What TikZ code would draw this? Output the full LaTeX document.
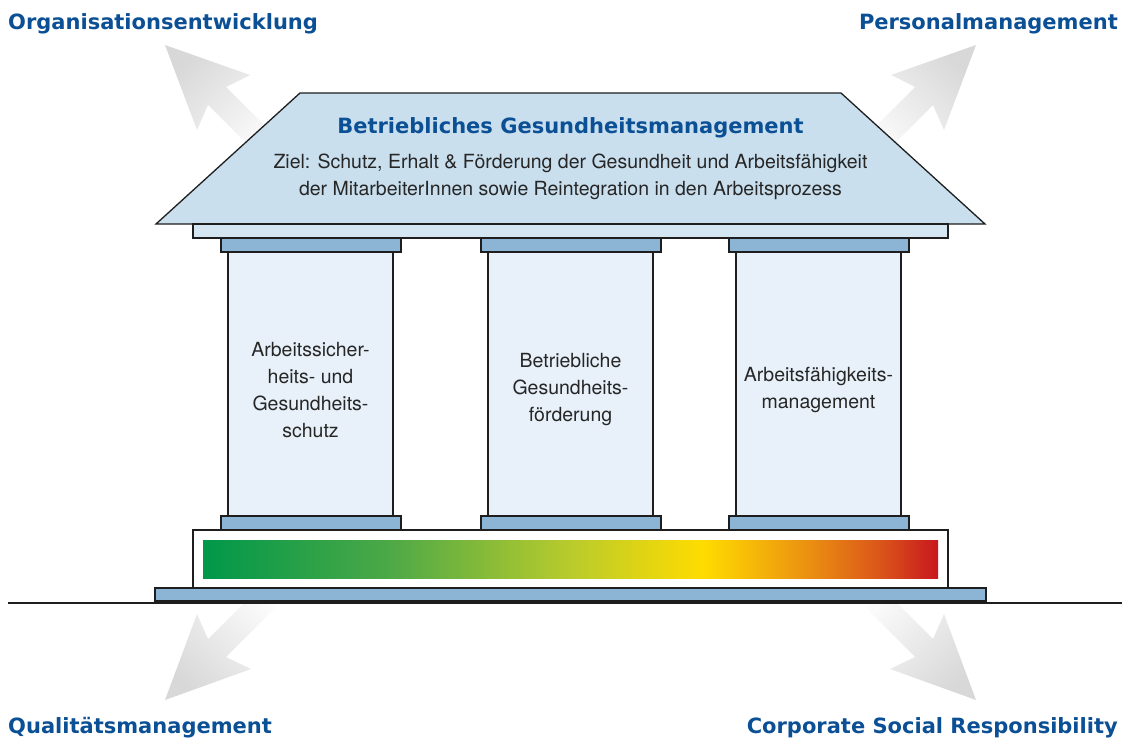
\documentclass[tikz,border=0pt]{standalone}
\usepackage{fontspec}
\setmainfont{TeX Gyre Heros}
\newfontfamily\headfont{DejaVu Sans}

% palette
\definecolor{bgmblue}{HTML}{0B4F95}
\definecolor{roofblue}{HTML}{C9DFEE}
\definecolor{beamblue}{HTML}{D3E6F2}
\definecolor{capblue}{HTML}{8CB4D5}
\definecolor{shaftblue}{HTML}{E8F1F9}
\definecolor{edge}{HTML}{1E1E1E}
\definecolor{arrowgray}{HTML}{D8D8D8}
% traffic-light scale of the base
\definecolor{g0}{HTML}{00984A}
\definecolor{g1}{HTML}{4CA847}
\definecolor{g2}{HTML}{B9CB2C}
\definecolor{g3}{HTML}{FFDC00}
\definecolor{g4}{HTML}{EB9211}
\definecolor{g5}{HTML}{DB561A}
\definecolor{g6}{HTML}{C8171E}
% stops between 25bp and 75bp span the shaded path
\pgfdeclarehorizontalshading{healthbar}{100bp}{color(0bp)=(g0); color(25bp)=(g0);
  color(37.5bp)=(g1); color(50bp)=(g2); color(59bp)=(g3); color(66bp)=(g4);
  color(71bp)=(g5); color(75bp)=(g6); color(100bp)=(g6)}

\tikzset{
  part/.style={draw=edge, line width=1.3pt, line join=miter},
  roof/.style={part, fill=roofblue},
  beam/.style={part, fill=beamblue},
  capital/.style={part, fill=capblue},
  shaft/.style={part, fill=shaftblue},
  base/.style={part, fill=white},
  corner/.style={inner sep=0pt, text=bgmblue, font=\headfont\bfseries\fontsize{21}{25}\selectfont},
  title/.style={inner sep=0pt, text=bgmblue, font=\headfont\bfseries\fontsize{21}{25}\selectfont},
  body/.style={inner sep=0pt, text=black!85, font=\fontsize{19.5}{27}\selectfont},
  ptext/.style={body, align=center},
  fadearrow/.style={top color=arrowgray, bottom color=white},
}

\begin{document}
\begin{tikzpicture}[x=1pt, y=-1pt]
\useasboundingbox (0,0) rectangle (1122,739);

% diagonal arrows pointing to the neighbouring fields
\shade[fadearrow, shading angle=45]
  (165,45) -- (250,75) -- (226,87) -- (289.6,150.6) -- (271.6,168.6) -- (208,105) -- (197,130) -- cycle;
\shade[fadearrow, shading angle=-45]
  (976,45) -- (891,75) -- (915,87) -- (851.4,150.6) -- (869.4,168.6) -- (933,105) -- (944,130) -- cycle;
\shade[fadearrow, shading angle=135]
  (165,700) -- (251,669) -- (226,657) -- (289.6,593.4) -- (271.6,575.4) -- (208,639) -- (197,614) -- cycle;
\shade[fadearrow, shading angle=-135]
  (976,700) -- (890,669) -- (915,657) -- (851.4,593.4) -- (869.4,575.4) -- (933,639) -- (944,614) -- cycle;

% roof and beam
\draw[roof] (300,93) -- (841,93) -- (985,224) -- (156,224) -- cycle;
\draw[beam] (193,224) rectangle (948,238);

% three pillars
\foreach \l/\r in {228/393, 488/653, 736/901} {
  \draw[shaft] (\l,252) rectangle (\r,516);
  \draw[capital] (\l-7,238) rectangle (\r+8,252);
  \draw[capital] (\l-7,516) rectangle (\r+8,530);
}

% base with colour scale, foundation slab and ground
\draw[base] (193,530) rectangle (948,588);
\shade[shading=healthbar] (203,540) rectangle (938,578);
\draw[capital] (155,588) rectangle (986,601);
\draw[edge, line width=2.4pt] (8,603) -- (1122,603);

% roof texts
\node[title, anchor=base] (title) at (570.5,133) {Betriebliches Gesundheitsmanagement};
\node[body, anchor=base] (goal1) at (570.5,168) {Ziel: Schutz, Erhalt \& Förderung der Gesundheit und Arbeitsfähigkeit};
\node[body, anchor=base] (goal2) at (570.5,195) {der MitarbeiterInnen sowie Reintegration in den Arbeitsprozess};

% pillar texts
\node[ptext] (pillar1) at (310.5,390) {Arbeitssicher-\\heits- und\\Gesundheits-\\schutz};
\node[ptext] (pillar2) at (570.5,390) {Betriebliche\\Gesundheits-\\förderung};
\node[ptext] (pillar3) at (818.5,390) {Arbeitsfähigkeits-\\management};

% fields in the four corners
\node[corner, anchor=base west] (org) at (8,29) {Organisationsentwicklung};
\node[corner, anchor=base east] (pm) at (1118,29) {Personalmanagement};
\node[corner, anchor=base west] (qm) at (8,733) {Qualitätsmanagement};
\node[corner, anchor=base east] (csr) at (1118,733) {Corporate Social Responsibility};
\end{tikzpicture}
\end{document}
